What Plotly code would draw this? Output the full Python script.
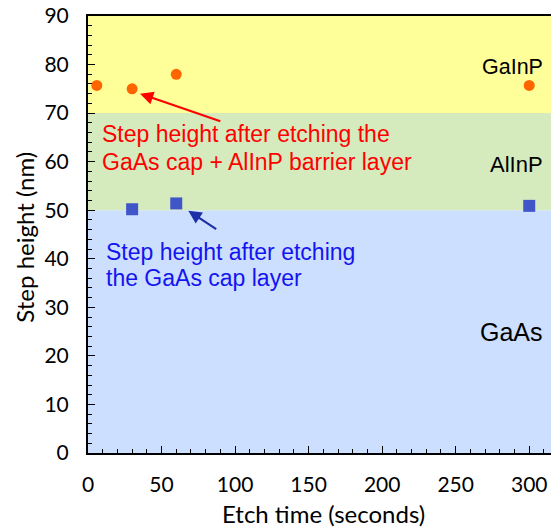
import plotly.graph_objects as go

# Step height measured after etching the GaAs cap + AlInP barrier layer
t_barrier = [6, 30, 60, 300]
h_barrier = [75.7, 75.0, 78.0, 75.7]

# Step height measured after etching the GaAs cap layer only
t_cap = [30, 60, 300]
h_cap = [50.2, 51.4, 50.9]

# Layer stack: name, bottom, top, fill colour
layer_names = ["GaAs", "AlInP", "GaInP"]
layer_bottom = [0, 50, 70]
layer_top = [50, 70, 90]
layer_color = ["#CCDFFF", "#D5EBBE", "#FFFF99"]
layer_label_y = [24.9, 59.5, 79.5]
layer_label_size = [25, 22, 21.5]

x_ticks = [0, 50, 100, 150, 200, 250, 300]
y_ticks = [0, 10, 20, 30, 40, 50, 60, 70, 80, 90]

fig = go.Figure()

fig.add_trace(go.Scatter(
    x=t_barrier, y=h_barrier, mode="markers",
    marker=dict(symbol="circle", size=11, color="#FF6600", line=dict(width=0)),
    showlegend=False, cliponaxis=False,
))
fig.add_trace(go.Scatter(
    x=t_cap, y=h_cap, mode="markers",
    marker=dict(symbol="square", size=12, color="#3F55C8", line=dict(width=0)),
    showlegend=False, cliponaxis=False,
))

label_font = "Liberation Sans, Arial, sans-serif"
shapes = []
annotations = []
for name, lo, hi, col, ly, fs in zip(layer_names, layer_bottom, layer_top,
                                     layer_color, layer_label_y, layer_label_size):
    shapes.append(dict(type="rect", xref="paper", yref="y", x0=0, x1=1, y0=lo, y1=hi,
                       fillcolor=col, line=dict(width=0), layer="below"))
    annotations.append(dict(x=0.987, xref="paper", y=ly, yref="y", text=name,
                            showarrow=False, xanchor="right", yanchor="middle",
                            font=dict(family=label_font, size=fs, color="black")))

# Callout texts, one annotation per line for tight line spacing
red_lines = ["Step height after etching the", "GaAs cap + AlInP barrier layer"]
red_y = [65.6, 59.9]
blue_lines = ["Step height after etching", "the GaAs cap layer"]
blue_y = [41.3, 36.0]
for txt, yy in zip(red_lines, red_y):
    annotations.append(dict(x=8.4, y=yy, xref="x", yref="y", text=txt,
                            showarrow=False, xanchor="left", yanchor="middle",
                            font=dict(family=label_font, size=23, color="#FF0000")))
for txt, yy in zip(blue_lines, blue_y):
    annotations.append(dict(x=10.7, y=yy, xref="x", yref="y", text=txt,
                            showarrow=False, xanchor="left", yanchor="middle",
                            font=dict(family=label_font, size=23, color="#1414F0")))

# Arrows pointing to the measured points
annotations.append(dict(x=35.4, y=74.0, xref="x", yref="y", ax=91.0, ay=68.2, axref="x", ayref="y",
                        text="", showarrow=True, arrowhead=2, arrowsize=1.2, arrowwidth=2.2,
                        arrowcolor="#FF0000"))
annotations.append(dict(x=68.2, y=49.9, xref="x", yref="y", ax=88.2, ay=45.9, axref="x", ayref="y",
                        text="", showarrow=True, arrowhead=2, arrowsize=1.2, arrowwidth=2.2,
                        arrowcolor="#1E2FA8"))

axis_family = "Lato, Open Sans, sans-serif"
# Axis titles
annotations.append(dict(x=0.5076, xref="paper", y=-0.1373, yref="paper",
                        text="Etch time (seconds)", showarrow=False,
                        xanchor="center", yanchor="middle",
                        font=dict(family=axis_family, size=24, color="black")))
annotations.append(dict(x=-0.138, xref="paper", y=0.493, yref="paper",
                        text="Step height (nm)", showarrow=False, textangle=-90,
                        xanchor="center", yanchor="middle",
                        font=dict(family=axis_family, size=24, color="black")))

tick_font = dict(family=axis_family, size=21, color="black")

fig.update_layout(
    width=551, height=529,
    margin=dict(l=88, r=0, t=16, b=76),
    paper_bgcolor="white", plot_bgcolor="white",
    shapes=shapes, annotations=annotations,
    xaxis=dict(
        range=[0, 314.8], tickvals=x_ticks, ticktext=[str(v) for v in x_ticks],
        ticks="inside", ticklen=7, tickwidth=1.2, tickcolor="black",
        minor=dict(dtick=10, ticks="inside", ticklen=4, tickwidth=1, tickcolor="black"),
        showline=True, linecolor="black", linewidth=2, mirror=True,
        showgrid=False, zeroline=False,
        tickfont=tick_font, ticklabelstandoff=12,
    ),
    yaxis=dict(
        range=[0, 90], tickvals=y_ticks, ticktext=[str(v) for v in y_ticks],
        ticks="inside", ticklen=7, tickwidth=1.2, tickcolor="black",
        minor=dict(dtick=2, ticks="inside", ticklen=4, tickwidth=1, tickcolor="black"),
        showline=True, linecolor="black", linewidth=2,
        showgrid=False, zeroline=False,
        tickfont=tick_font, ticklabelstandoff=13,
    ),
)

fig.write_html("out.html")
